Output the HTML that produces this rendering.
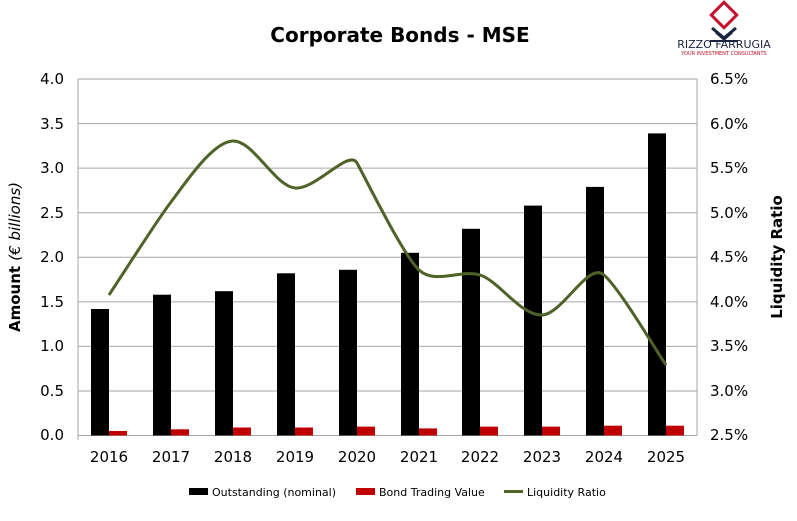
<!DOCTYPE html>
<html><head><style>body{margin:0;background:#fff}svg{font-family:"DejaVu Sans","Liberation Sans",sans-serif}</style></head><body>
<svg width="797" height="516" xmlns="http://www.w3.org/2000/svg">
<text x="400" y="42" text-anchor="middle" font-size="20" font-weight="bold">Corporate Bonds - MSE</text>
<g transform="translate(724,8)">
<rect x="-9" y="-2" width="18" height="18" transform="rotate(45 0 7)" fill="none" stroke="#c8102e" stroke-width="3"/>
<path d="M-12 20 L0 30 L12 20 M-8 24 L0 31 L8 24" stroke="#1a2340" stroke-width="3" fill="none"/>
<line x1="-14" y1="33" x2="14" y2="33" stroke="#1a2340" stroke-width="2"/>
</g>
<text x="724" y="48" text-anchor="middle" font-size="11" fill="#1a2340">RIZZO FARRUGIA</text>
<text x="724" y="55" text-anchor="middle" font-size="5" fill="#c8102e">YOUR INVESTMENT CONSULTANTS</text>
<g stroke="#a6a6a6" stroke-width="1">
<line x1="78" y1="79" x2="697" y2="79"/><line x1="78" y1="123.6" x2="697" y2="123.6"/><line x1="78" y1="168.1" x2="697" y2="168.1"/><line x1="78" y1="212.7" x2="697" y2="212.7"/><line x1="78" y1="257.3" x2="697" y2="257.3"/><line x1="78" y1="301.9" x2="697" y2="301.9"/><line x1="78" y1="346.4" x2="697" y2="346.4"/><line x1="78" y1="391" x2="697" y2="391"/><line x1="78" y1="435.5" x2="697" y2="435.5"/>
<line x1="78" y1="79" x2="78" y2="440"/><line x1="697" y1="79" x2="697" y2="435.5"/>
</g>
<g font-size="15" text-anchor="end" fill="#000">
<text x="64" y="84">4.0</text><text x="64" y="129">3.5</text><text x="64" y="173">3.0</text><text x="64" y="218">2.5</text><text x="64" y="262">2.0</text><text x="64" y="307">1.5</text><text x="64" y="351">1.0</text><text x="64" y="396">0.5</text><text x="64" y="440">0.0</text>
</g>
<g font-size="15" text-anchor="start">
<text x="710" y="84">6.5%</text><text x="710" y="129">6.0%</text><text x="710" y="173">5.5%</text><text x="710" y="218">5.0%</text><text x="710" y="262">4.5%</text><text x="710" y="307">4.0%</text><text x="710" y="351">3.5%</text><text x="710" y="396">3.0%</text><text x="710" y="440">2.5%</text>
</g>
<text transform="translate(20,257) rotate(-90)" text-anchor="middle" font-size="15"><tspan font-weight="bold">Amount </tspan><tspan font-style="italic">(€ billions)</tspan></text>
<text transform="translate(782,257) rotate(-90)" text-anchor="middle" font-size="15" font-weight="bold">Liquidity Ratio</text>
<g id="bars"></g>
<g font-size="15" text-anchor="middle">
<text x="109" y="462">2016</text><text x="171" y="462">2017</text><text x="233" y="462">2018</text><text x="295" y="462">2019</text><text x="357" y="462">2020</text><text x="419" y="462">2021</text><text x="480" y="462">2022</text><text x="542" y="462">2023</text><text x="604" y="462">2024</text><text x="666" y="462">2025</text>
</g>
<g>
<rect x="91" y="309" width="18" height="126.5" fill="#000"/><rect x="109" y="431" width="18" height="4.5" fill="#c00000"/>
<rect x="153" y="294.7" width="18" height="140.8" fill="#000"/><rect x="171" y="429.3" width="18" height="6.2" fill="#c00000"/>
<rect x="215" y="291.2" width="18" height="144.3" fill="#000"/><rect x="233" y="427.5" width="18" height="8" fill="#c00000"/>
<rect x="277" y="273.3" width="18" height="162.2" fill="#000"/><rect x="295" y="427.5" width="18" height="8" fill="#c00000"/>
<rect x="339" y="269.8" width="18" height="165.7" fill="#000"/><rect x="357" y="426.6" width="18" height="8.9" fill="#c00000"/>
<rect x="401" y="252.8" width="18" height="182.7" fill="#000"/><rect x="419" y="428.4" width="18" height="7.1" fill="#c00000"/>
<rect x="462" y="228.8" width="18" height="206.7" fill="#000"/><rect x="480" y="426.6" width="18" height="8.9" fill="#c00000"/>
<rect x="524" y="205.6" width="18" height="229.9" fill="#000"/><rect x="542" y="426.6" width="18" height="8.9" fill="#c00000"/>
<rect x="586" y="186.9" width="18" height="248.6" fill="#000"/><rect x="604" y="425.7" width="18" height="9.8" fill="#c00000"/>
<rect x="648" y="133.4" width="18" height="302.1" fill="#000"/><rect x="666" y="425.7" width="18" height="9.8" fill="#c00000"/>
</g>
<path d="M109 295 C119.3 279.5 156.7 220.7 171 202 C185.3 183.3 212.5 141.5 233 141 C253.5 140.5 274.5 186 295 188 C315.5 190 349 148.5 357 163 C368 183 403 255 419 270 C435 285 461 269 480 275 C499 281 521 316 542 315 C563 314 588 261 604 275 C620 289 655.7 350 666 365" fill="none" stroke="#4f6228" stroke-width="3"/>
<g font-size="11">
<rect x="189" y="488" width="19" height="7" fill="#000"/><text x="212" y="496">Outstanding (nominal)</text>
<rect x="356" y="488" width="19" height="7" fill="#c00000"/><text x="379" y="496">Bond Trading Value</text>
<line x1="504" y1="491.5" x2="523" y2="491.5" stroke="#4f6228" stroke-width="3"/><text x="527" y="496">Liquidity Ratio</text>
</g>
</svg>
</body></html>
